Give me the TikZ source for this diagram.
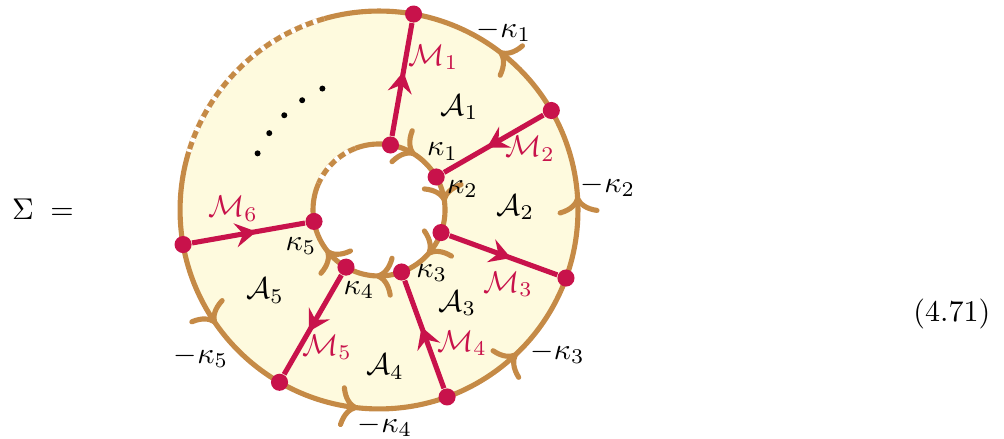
\documentclass[tikz,border=0pt]{standalone}
\usetikzlibrary{arrows.meta,decorations.markings}
\definecolor{rimbrown}{RGB}{197,138,70}
\definecolor{bordred}{RGB}{200,18,75}
\definecolor{annulus}{RGB}{254,250,222}
\begin{document}
\begin{tikzpicture}[every node/.style={inner sep=1pt},
  rim/.style={line width=1.7pt,draw=rimbrown},
  vert/.style={circle,fill=bordred,inner sep=0pt,minimum size=0.2cm},
  wall/.style={line width=1.7pt,draw=bordred,postaction={decorate},
    decoration={markings,mark=at position 0.57 with {\arrow{Stealth[length=7pt,width=8pt,inset=2.5pt]}}}},
  mlab/.style={text=bordred},
  barbs/.style n args={5}{postaction={decorate},decoration={markings,
    mark=at position #1 with {\arrow{Computer Modern Rightarrow[length=6pt,width=14pt]}},
    mark=at position #2 with {\arrow{Computer Modern Rightarrow[length=6pt,width=14pt]}},
    mark=at position #3 with {\arrow{Computer Modern Rightarrow[length=6pt,width=14pt]}},
    mark=at position #4 with {\arrow{Computer Modern Rightarrow[length=6pt,width=14pt]}},
    mark=at position #5 with {\arrow{Computer Modern Rightarrow[length=6pt,width=14pt]}}}}
]
\useasboundingbox (-4.433,-2.667) rectangle (7.310,2.456);
\def\ro{2.327}
\def\ri{0.772}
% annulus
\fill[annulus,even odd rule] (0,0) circle (\ro) (0,0) circle (\ri);
% outer boundary, counterclockwise
\draw[rim,barbs={0.011}{0.147}{0.597}{0.733}{0.872}]
  (0:\ro) arc[start angle=0,end angle=360,radius=\ro];
% inner boundary, clockwise
\draw[rim,barbs={0.119}{0.258}{0.397}{0.842}{0.981}]
  (0:\ri) arc[start angle=360,end angle=0,radius=\ri];
% dashed parts
\draw[line width=1.8pt,white] (106:\ro) arc[start angle=106,end angle=163,radius=\ro];
\draw[rim,dash pattern=on 2.5pt off 1.4pt] (106:\ro) arc[start angle=106,end angle=163,radius=\ro];
\draw[line width=1.8pt,white] (111:\ri) arc[start angle=111,end angle=156,radius=\ri];
\draw[rim,dash pattern=on 2.5pt off 1.4pt] (111:\ri) arc[start angle=111,end angle=156,radius=\ri];
\foreach \a in {115,125,...,155} \fill (\a:1.567) circle (0.035);
% vertices
\node[vert] (i1) at (80:\ri) {};
\node[vert] (i2) at (30:\ri) {};
\node[vert] (i3) at (-20:\ri) {};
\node[vert] (i4) at (-70:\ri) {};
\node[vert] (i5) at (-120:\ri) {};
\node[vert] (i6) at (-170:\ri) {};
\node[vert] (o1) at (80:\ro) {};
\node[vert] (o2) at (30:\ro) {};
\node[vert] (o3) at (-20:\ro) {};
\node[vert] (o4) at (-70:\ro) {};
\node[vert] (o5) at (-120:\ro) {};
\node[vert] (o6) at (-170:\ro) {};
% walls
\draw[wall] (i1) -- (o1);
\draw[wall] (o2) -- (i2);
\draw[wall] (i3) -- (o3);
\draw[wall] (o4) -- (i4);
\draw[wall] (i5) -- (o5);
\draw[wall] (o6) -- (i6);
% labels
\node[mlab] (M1) at (0.637,1.784) {$\mathcal{M}_1$};
\node[mlab] (M2) at (1.766,0.719) {$\mathcal{M}_2$};
\node[mlab] (M3) at (1.509,-0.871) {$\mathcal{M}_3$};
\node[mlab] (M4) at (0.971,-1.561) {$\mathcal{M}_4$};
\node[mlab] (M5) at (-0.608,-1.608) {$\mathcal{M}_5$};
\node[mlab] (M6) at (-1.708,0.012) {$\mathcal{M}_6$};
\node (A1) at (0.942,1.199) {$\mathcal{A}_1$};
\node (A2) at (1.596,0.035) {$\mathcal{A}_2$};
\node (A3) at (0.916,-1.092) {$\mathcal{A}_3$};
\node (A4) at (0.070,-1.836) {$\mathcal{A}_4$};
\node (A5) at (-1.333,-0.947) {$\mathcal{A}_5$};
\node (k1) at (0.743,0.684) {$\kappa_1$};
\node (k2) at (0.977,0.246) {$\kappa_2$};
\node (k3) at (0.616,-0.739) {$\kappa_3$};
\node (k4) at (-0.234,-0.936) {$\kappa_4$};
\node (k5) at (-0.912,-0.421) {$\kappa_5$};
\node (mk1) at (1.462,2.094) {$-\kappa_1$};
\node (mk2) at (2.678,0.281) {$-\kappa_2$};
\node (mk3) at (2.088,-1.667) {$-\kappa_3$};
\node (mk4) at (0.070,-2.526) {$-\kappa_4$};
\node (mk5) at (-2.082,-1.719) {$-\kappa_5$};
\node (lhs) at (-3.93,0.01) {$\Sigma\;=$};
\node (eqno) at (6.70,-1.222) {(4.71)};
\end{tikzpicture}
\end{document}
